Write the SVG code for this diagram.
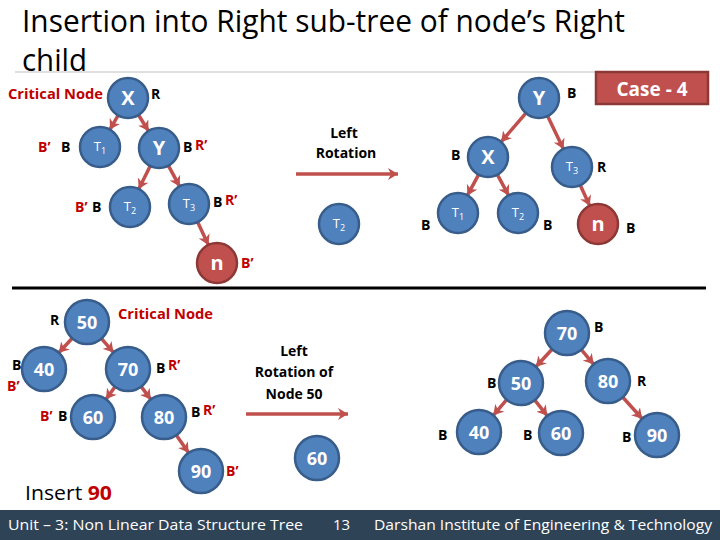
<svg xmlns="http://www.w3.org/2000/svg" width="720" height="540" viewBox="0 0 720 540">
<defs>
<marker id="ah" markerUnits="userSpaceOnUse" markerWidth="12" markerHeight="12" refX="10" refY="6" orient="auto">
<path d="M0,0 L10,6 L0,12 L3,6 Z" fill="#C0504D"/>
</marker>
</defs>
<style>
.n{fill:#4F81BD;stroke:#385D8A;stroke-width:2.5}
.r{fill:#C0504D;stroke:#8C3836;stroke-width:2.5}
.e{stroke:#C0504D;stroke-width:3.5;fill:none;marker-end:url(#ah)}
.nt{font-family:"Open Sans","Liberation Sans",sans-serif;font-weight:bold;fill:#FFFFFF;text-anchor:middle}
.big{font-size:20px}
.num{font-size:18px}
.t{font-size:13px;font-weight:normal}
.lb{font-family:"Open Sans","Liberation Sans",sans-serif;font-weight:bold;font-size:14px;fill:#000}
.rd{fill:#C00000}
.cap{font-family:"Open Sans","Liberation Sans",sans-serif;font-weight:bold;font-size:14px;fill:#000;text-anchor:middle}
.ft{font-family:"Open Sans","Liberation Sans",sans-serif;font-size:15px;fill:#FFFFFF}
</style>
<rect width="720" height="540" fill="#FFFFFF"/>
<g id="title">
<text x="22" y="32" font-family="Open Sans, Liberation Sans, sans-serif" font-size="31" fill="#000" textLength="603" lengthAdjust="spacingAndGlyphs">Insertion into Right sub-tree of node’s Right</text>
<text x="22" y="71" font-family="Open Sans, Liberation Sans, sans-serif" font-size="31" fill="#000" textLength="65" lengthAdjust="spacingAndGlyphs">child</text>
</g>
<line x1="15" y1="72" x2="600" y2="72" stroke="#BFBFBF" stroke-width="1"/>
<line x1="12" y1="288" x2="706" y2="288" stroke="#000" stroke-width="3"/>
<g id="case4">
<rect x="596" y="72" width="112" height="32" fill="#C0504D" stroke="#8C3836" stroke-width="2.5"/>
<text x="652" y="96" font-family="Open Sans, Liberation Sans, sans-serif" font-weight="bold" font-size="19" fill="#FFFFFF" text-anchor="middle">Case - 4</text>
</g>
<g id="connectors">
<line class="e" x1="118.1" y1="115.4" x2="109.9" y2="129.6"/>
<line class="e" x1="138.5" y1="115" x2="148.5" y2="131"/>
<line class="e" x1="150.2" y1="166" x2="138.8" y2="189"/>
<line class="e" x1="168.4" y1="165.6" x2="179.6" y2="186.4"/>
<line class="e" x1="197.6" y1="222.1" x2="208.4" y2="244.9"/>
<line class="e" x1="296" y1="174" x2="398" y2="174"/>
<line class="e" x1="525.9" y1="113.1" x2="501.1" y2="141.9"/>
<line class="e" x1="547.6" y1="116" x2="563.4" y2="149"/>
<line class="e" x1="478.6" y1="174.6" x2="467.4" y2="195.4"/>
<line class="e" x1="497.4" y1="174.6" x2="508.6" y2="195.4"/>
<line class="e" x1="580.3" y1="185.2" x2="589.7" y2="205.8"/>
<line class="e" x1="72.2" y1="338.2" x2="58.8" y2="352.8"/>
<line class="e" x1="101.5" y1="338.6" x2="113.5" y2="352.4"/>
<line class="e" x1="115" y1="386.8" x2="106" y2="399.2"/>
<line class="e" x1="141.2" y1="386.6" x2="150.8" y2="399.4"/>
<line class="e" x1="176.4" y1="435.2" x2="188.6" y2="452.8"/>
<line class="e" x1="246" y1="414" x2="348" y2="414"/>
<line class="e" x1="552.1" y1="349.2" x2="535.9" y2="366.8"/>
<line class="e" x1="581.3" y1="349.7" x2="593.7" y2="364.3"/>
<line class="e" x1="506.7" y1="399.7" x2="493.3" y2="415.3"/>
<line class="e" x1="534.8" y1="400.2" x2="547.3" y2="415.8"/>
<line class="e" x1="622.8" y1="397.3" x2="642.2" y2="418.7"/>
</g>
<!-- top-left tree -->
<g id="tl-X"><circle class="n" cx="128" cy="98" r="20"/><text class="nt big" x="128" y="105">X</text></g>
<g id="tl-T1"><circle class="n" cx="100" cy="147" r="20"/><text class="nt t" x="100" y="151">T<tspan font-size="9" dy="3">1</tspan></text></g>
<g id="tl-Y"><circle class="n" cx="159" cy="148" r="20"/><text class="nt big" x="159" y="155">Y</text></g>
<g id="tl-T2"><circle class="n" cx="130" cy="207" r="20"/><text class="nt t" x="130" y="211">T<tspan font-size="9" dy="3">2</tspan></text></g>
<g id="tl-T3"><circle class="n" cx="189" cy="204" r="20"/><text class="nt t" x="189" y="208">T<tspan font-size="9" dy="3">3</tspan></text></g>
<g id="tl-n"><circle class="r" cx="217" cy="263" r="20"/><text class="nt big" x="217" y="270">n</text></g>
<g id="tl-labels">
<text class="lb rd" x="8" y="99" textLength="95" lengthAdjust="spacingAndGlyphs">Critical Node</text>
<text class="lb" x="151" y="99">R</text>
<text class="lb rd" x="38" y="152">B’</text>
<text class="lb" x="61" y="152">B</text>
<text class="lb" x="183" y="152">B</text>
<text class="lb rd" x="195" y="150">R’</text>
<text class="lb rd" x="75" y="212">B’</text>
<text class="lb" x="92" y="212">B</text>
<text class="lb" x="213" y="207">B</text>
<text class="lb rd" x="225" y="205">R’</text>
<text class="lb rd" x="241" y="268">B’</text>
</g>
<!-- top rotation -->
<g id="tr-caption"><text class="cap" x="344" y="138">Left</text><text class="cap" x="346" y="158">Rotation</text></g>
<g id="tr-T2s"><circle class="n" cx="339" cy="224" r="20"/><text class="nt t" x="339" y="228">T<tspan font-size="9" dy="3">2</tspan></text></g>
<!-- top-right tree -->
<g id="tr-Y"><circle class="n" cx="539" cy="98" r="20"/><text class="nt big" x="539" y="105">Y</text></g>
<g id="tr-X"><circle class="n" cx="488" cy="157" r="20"/><text class="nt big" x="488" y="164">X</text></g>
<g id="tr-T3"><circle class="n" cx="572" cy="167" r="20"/><text class="nt t" x="572" y="171">T<tspan font-size="9" dy="3">3</tspan></text></g>
<g id="tr-T1"><circle class="n" cx="458" cy="213" r="20"/><text class="nt t" x="458" y="217">T<tspan font-size="9" dy="3">1</tspan></text></g>
<g id="tr-T2"><circle class="n" cx="518" cy="213" r="20"/><text class="nt t" x="518" y="217">T<tspan font-size="9" dy="3">2</tspan></text></g>
<g id="tr-n"><circle class="r" cx="598" cy="224" r="20"/><text class="nt big" x="598" y="231">n</text></g>
<g id="tr-labels">
<text class="lb" x="567" y="98">B</text>
<text class="lb" x="451" y="160">B</text>
<text class="lb" x="597" y="172">R</text>
<text class="lb" x="421" y="230">B</text>
<text class="lb" x="543" y="230">B</text>
<text class="lb" x="626" y="233">B</text>
</g>
<!-- bottom-left tree -->
<g id="bl-50"><circle class="n" cx="87" cy="322" r="22"/><text class="nt num" x="87" y="329">50</text></g>
<g id="bl-40"><circle class="n" cx="44" cy="369" r="22"/><text class="nt num" x="44" y="376">40</text></g>
<g id="bl-70"><circle class="n" cx="128" cy="369" r="22"/><text class="nt num" x="128" y="376">70</text></g>
<g id="bl-60"><circle class="n" cx="93" cy="417" r="22"/><text class="nt num" x="93" y="424">60</text></g>
<g id="bl-80"><circle class="n" cx="164" cy="417" r="22"/><text class="nt num" x="164" y="424">80</text></g>
<g id="bl-90"><circle class="n" cx="201" cy="471" r="22"/><text class="nt num" x="201" y="478">90</text></g>
<g id="bl-labels">
<text class="lb" x="50" y="325">R</text>
<text class="lb rd" x="118" y="319" textLength="95" lengthAdjust="spacingAndGlyphs">Critical Node</text>
<text class="lb" x="12" y="370" font-size="13">B</text>
<text class="lb rd" x="7" y="391" font-size="13">B’</text>
<text class="lb" x="156" y="373">B</text>
<text class="lb rd" x="168" y="370">R’</text>
<text class="lb rd" x="40" y="421">B’</text>
<text class="lb" x="58" y="421">B</text>
<text class="lb" x="191" y="417">B</text>
<text class="lb rd" x="203" y="415">R’</text>
<text class="lb rd" x="226" y="476">B’</text>
<text x="25" y="500" font-family="Open Sans, Liberation Sans, sans-serif" font-size="20" fill="#000" textLength="87" lengthAdjust="spacingAndGlyphs">Insert <tspan fill="#C00000" font-weight="bold">90</tspan></text>
</g>
<!-- bottom rotation -->
<g id="br-caption"><text class="cap" x="294" y="356">Left</text><text class="cap" x="294" y="377">Rotation of</text><text class="cap" x="294" y="399">Node 50</text></g>
<g id="br-60s"><circle class="n" cx="317" cy="458" r="22"/><text class="nt num" x="317" y="465">60</text></g>
<!-- bottom-right tree -->
<g id="br-70"><circle class="n" cx="567" cy="333" r="22"/><text class="nt num" x="567" y="340">70</text></g>
<g id="br-50"><circle class="n" cx="521" cy="383" r="22"/><text class="nt num" x="521" y="390">50</text></g>
<g id="br-80"><circle class="n" cx="608" cy="381" r="22"/><text class="nt num" x="608" y="388">80</text></g>
<g id="br-40"><circle class="n" cx="479" cy="432" r="22"/><text class="nt num" x="479" y="439">40</text></g>
<g id="br-60"><circle class="n" cx="561" cy="433" r="22"/><text class="nt num" x="561" y="440">60</text></g>
<g id="br-90"><circle class="n" cx="657" cy="435" r="22"/><text class="nt num" x="657" y="442">90</text></g>
<g id="br-labels">
<text class="lb" x="594" y="332">B</text>
<text class="lb" x="487" y="388">B</text>
<text class="lb" x="637" y="386">R</text>
<text class="lb" x="438" y="440">B</text>
<text class="lb" x="523" y="440">B</text>
<text class="lb" x="622" y="442">B</text>
</g>
<!-- footer -->
<g id="footer">
<rect x="0" y="510" width="720" height="30" fill="#2F4356"/>
<text class="ft" x="8" y="530" textLength="295" lengthAdjust="spacingAndGlyphs">Unit – 3: Non Linear Data Structure  Tree</text>
<text class="ft" x="333" y="530">13</text>
<text class="ft" x="374" y="530" textLength="338" lengthAdjust="spacingAndGlyphs">Darshan Institute of Engineering &amp; Technology</text>
</g>
</svg>
